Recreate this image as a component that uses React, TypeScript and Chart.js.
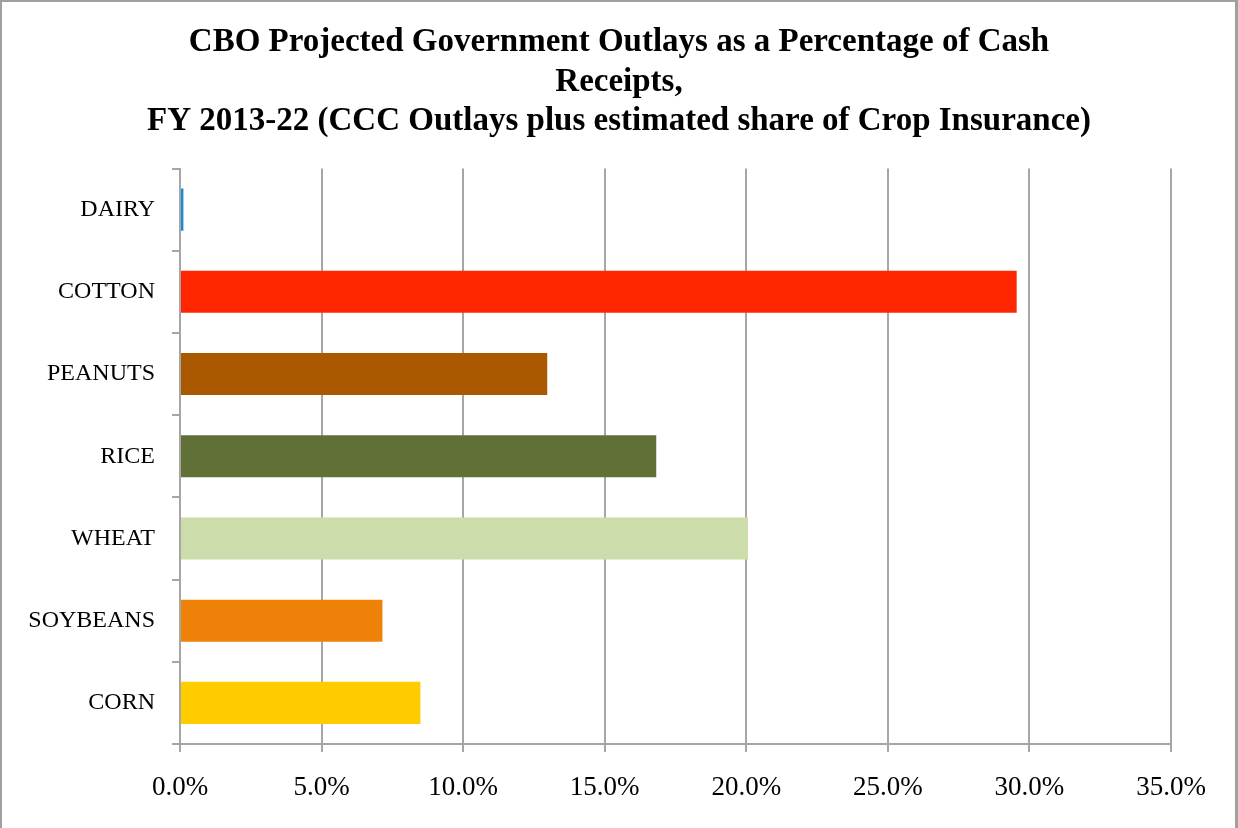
import React, { useEffect, useRef } from "react";
import { Chart, registerables } from "chart.js";

Chart.register(...registerables);

const categories = ["DAIRY", "COTTON", "PEANUTS", "RICE", "WHEAT", "SOYBEANS", "CORN"];
const values = [0.12, 29.55, 12.97, 16.82, 20.06, 7.15, 8.49];
const barColors = ["#1a88d2", "#ff2600", "#aa5900", "#617036", "#cddcab", "#ee8208", "#ffcc00"];
const titleLines = [
  "CBO Projected Government Outlays as a Percentage of Cash",
  "Receipts,",
  "FY 2013-22 (CCC Outlays plus estimated share of Crop Insurance)",
];
const xMin = 0;
const xMax = 35;
const xStep = 5;

export default function App() {
  const ref = useRef<HTMLCanvasElement | null>(null);

  useEffect(() => {
    document.body.style.margin = "0";
    const canvas = ref.current;
    if (!canvas) return;
    const gray = "#a6a6a6";
    const chart = new Chart(canvas, {
      type: "bar",
      data: {
        labels: categories,
        datasets: [
          {
            data: values,
            backgroundColor: barColors,
            borderWidth: 0,
            categoryPercentage: 1,
            barPercentage: 0.512,
          },
        ],
      },
      options: {
        indexAxis: "y",
        animation: false,
        responsive: false,
        maintainAspectRatio: false,
        layout: { padding: { left: 0, right: 0, top: 0, bottom: 0 } },
        plugins: {
          legend: { display: false },
          tooltip: { enabled: false },
          title: {
            display: true,
            text: titleLines,
            color: "#000",
            font: { family: "'Liberation Serif', serif", size: 33, weight: "bold", lineHeight: 39.5 / 33 },
            padding: { top: 23, bottom: 27 },
          },
        },
        scales: {
          x: {
            min: xMin,
            max: xMax,
            ticks: {
              stepSize: xStep,
              color: "#000",
              padding: 20,
              font: { family: "'Liberation Serif', serif", size: 27 },
              callback: (v: any) => Number(v).toFixed(1) + "%",
            },
            grid: { color: gray, lineWidth: 2, tickLength: 8, drawTicks: true },
            border: { color: gray, width: 2 },
            afterFit: (s: any) => {
              s.height = 84;
              s.paddingRight = 67;
              s.paddingLeft = 0;
            },
          },
          y: {
            ticks: {
              color: "#000",
              padding: 17,
              font: { family: "'Liberation Serif', serif", size: 24 },
            },
            grid: { drawOnChartArea: false, color: gray, lineWidth: 2, tickLength: 8, offset: true },
            border: { color: gray, width: 2 },
            afterFit: (s: any) => {
              s.width = 180;
            },
          },
        },
      },
    });
    return () => chart.destroy();
  }, []);

  return (
    <div style={{ position: "relative", width: 1238, height: 828 }}>
      <canvas ref={ref} width={1238} height={828} style={{ display: "block" }} />
      <div
        style={{
          position: "absolute",
          left: 0,
          top: 0,
          width: 1238,
          height: 828,
          boxSizing: "border-box",
          borderTop: "2px solid #a0a0a0",
          borderLeft: "2px solid #a0a0a0",
          borderRight: "3px solid #a0a0a0",
          borderBottom: "0",
          pointerEvents: "none",
        }}
      />
    </div>
  );
}
